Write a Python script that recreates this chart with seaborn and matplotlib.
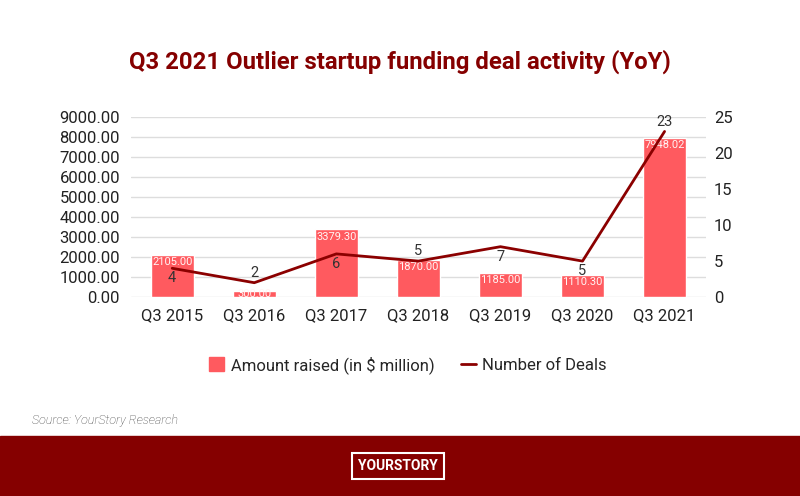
import matplotlib.pyplot as plt
import seaborn as sns
from matplotlib.patches import Rectangle
from matplotlib.lines import Line2D
from matplotlib.patches import Patch

quarters = ['Q3 2015', 'Q3 2016', 'Q3 2017', 'Q3 2018', 'Q3 2019', 'Q3 2020', 'Q3 2021']
amount_raised = [2105.00, 300.00, 3379.30, 1870.00, 1185.00, 1110.30, 7948.02]
num_deals = [4, 2, 6, 5, 7, 5, 23]
deal_label_side = ['below', 'above', 'below', 'above', 'below', 'below', 'above']

BAR_COLOR = '#ff5a5f'
LINE_COLOR = '#8b0000'
DARK_RED = '#850000'

sns.set_theme(style='white')
plt.rcParams['font.family'] = ['Roboto', 'DejaVu Sans']

fig = plt.figure(figsize=(8, 4.96), dpi=100)
ax = fig.add_axes([0.164, 0.401, 0.718, 0.363])

sns.barplot(x=quarters, y=amount_raised, color=BAR_COLOR, saturation=1, width=0.52, ax=ax)
ax.set_ylim(0, 9000)
ax.set_yticks(range(0, 9001, 1000))
ax.set_yticklabels([f'{v:.2f}' for v in range(0, 9001, 1000)], fontsize=12, color='#222')
ax.tick_params(axis='x', labelsize=12, colors='#222', pad=8, length=0)
ax.tick_params(axis='y', length=0, pad=8)
ax.grid(axis='y', color='#dddddd', linewidth=1)
ax.set_axisbelow(True)
for s in ax.spines.values():
    s.set_visible(False)

# value labels just inside the top of each bar
for i, v in enumerate(amount_raised):
    ax.text(i, max(v - 350, v * 0.45), f'{v:.2f}', ha='center', va='center', fontsize=8, color='#fff4f4')

ax2 = ax.twinx()
sns.lineplot(x=list(range(len(quarters))), y=num_deals, color=LINE_COLOR, linewidth=2, sort=False, ax=ax2)
ax2.set_ylim(0, 25)
ax2.set_yticks(range(0, 26, 5))
ax2.tick_params(axis='y', labelsize=12, colors='#222', length=0, pad=6)
ax2.set_ylabel('')
for s in ax2.spines.values():
    s.set_visible(False)
for i, (d, side) in enumerate(zip(num_deals, deal_label_side)):
    off = -0.4 if side == 'below' else 0.4
    ax2.text(i, d + off, str(d), ha='center', va='top' if side == 'below' else 'bottom',
             fontsize=10.5, color='#333')
ax.set_xlim(-0.5, len(quarters) - 0.5)

handles = [Patch(color=BAR_COLOR), Line2D([0], [0], color=LINE_COLOR, linewidth=2)]
fig.legend(handles, ['Amount raised (in $ million)', 'Number of Deals'], loc='center',
           bbox_to_anchor=(0.51, 0.264), ncol=2, frameon=False, fontsize=12,
           handlelength=0.9, handleheight=0.9, columnspacing=1.6, handletextpad=0.4)

fig.text(0.5, 0.875, 'Q3 2021 Outlier startup funding deal activity (YoY)', ha='center', va='center',
         fontsize=17.2, fontweight='bold', color=DARK_RED)
fig.text(0.04, 0.153, 'Source: YourStory Research', ha='left', va='center', fontsize=9,
         style='italic', color='#444444', fontweight='light')

# footer band with logo
fig.patches.append(Rectangle((0, 0), 1, 60 / 496, transform=fig.transFigure, color=DARK_RED, zorder=0))
fig.text(0.4975, 30 / 496, 'YOURSTORY', ha='center', va='center', fontsize=10, fontweight='bold',
         color='white',
         bbox=dict(boxstyle='square,pad=0.45', facecolor='none', edgecolor='white', linewidth=1.5))

fig.savefig('out.png', dpi=100)
